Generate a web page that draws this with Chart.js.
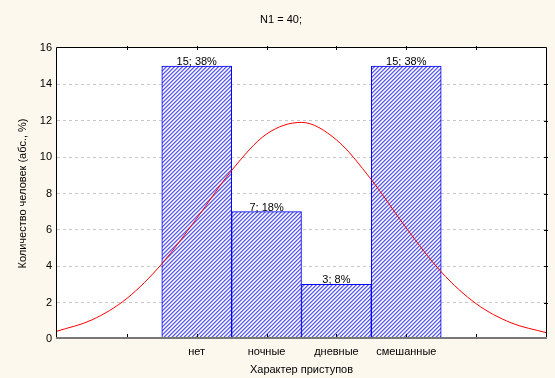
<!DOCTYPE html>
<html>
<head>
<meta charset="utf-8">
<script src="https://cdn.jsdelivr.net/npm/chart.js@4.4.1/dist/chart.umd.min.js"></script>
<style>
  html, body { margin: 0; padding: 0; background: #fcf8ee; }
  #wrap { width: 555px; height: 378px; }
</style>
</head>
<body>
<div id="wrap"><canvas id="c" width="555" height="378"></canvas></div>
<script>
// Attack type categories and patient counts
const categories = ['нет', 'ночные', 'дневные', 'смешанные'];
const counts = [15, 7, 3, 15];
const percents = [38, 18, 8, 38];

// Fitted normal curve (x in slot units across the plot, y in persons)
const curveX = [0, 0.5, 1, 1.5, 2, 2.5, 3, 3.5, 4, 4.5, 5, 5.5, 6, 6.5, 7];
const curveY = [0.43, 1.05, 2.23, 4.13, 6.63, 9.27, 11.27, 11.91, 10.95, 8.76, 6.10, 3.69, 1.94, 0.89, 0.35];

const total = counts.reduce((a, b) => a + b, 0);
const FIRST_SLOT = 2;           // first category sits two slots in from the left edge
const X_MAX = categories.length + 3;

const FONT = "'Liberation Sans', Arial, sans-serif";
Chart.defaults.font.family = FONT;
Chart.defaults.font.size = 11;
Chart.defaults.color = '#000';

const canvas = document.getElementById('c');
const ctx = canvas.getContext('2d');

// Fine diagonal hatch used for the bars
function makeHatch() {
  const t = document.createElement('canvas');
  t.width = 4; t.height = 4;
  const tc = t.getContext('2d');
  const shades = ['#5c5cf0', '#9c9cf5', '#ffffff', '#d6d6fb'];
  for (let y = 0; y < 4; y++) {
    for (let x = 0; x < 4; x++) {
      tc.fillStyle = shades[(x + y) % 4];
      tc.fillRect(x, y, 1, 1);
    }
  }
  return ctx.createPattern(t, 'repeat');
}
const hatch = makeHatch();

const barData = counts.map((v, i) => ({ x: i + FIRST_SLOT, y: v }));
const curveData = curveX.map((x, i) => ({ x: x, y: curveY[i] }));

const frame = {
  id: 'frame',
  beforeDraw(chart) {
    const c = chart.ctx;
    const a = chart.chartArea;
    c.save();
    c.fillStyle = '#fcf8ee';
    c.fillRect(0, 0, chart.width, chart.height);
    c.fillStyle = '#ffffff';
    c.fillRect(a.left, a.top, a.right - a.left, a.bottom - a.top);
    c.restore();
  },
  afterDraw(chart) {
    const c = chart.ctx;
    const { left, right, top, bottom } = chart.chartArea;
    const xs = chart.scales.x, ys = chart.scales.y;
    c.save();
    // plot frame
    c.strokeStyle = '#000';
    c.lineWidth = 1;
    c.beginPath();
    c.moveTo(left - 0.5, bottom);
    c.lineTo(left - 0.5, top - 0.5);
    c.lineTo(right + 0.5, top - 0.5);
    c.lineTo(right + 0.5, bottom);
    c.stroke();
    c.strokeStyle = '#787878';
    c.lineWidth = 2;
    c.beginPath();
    c.moveTo(left - 1, bottom - 1);
    c.lineTo(right + 1, bottom - 1);
    c.stroke();
    // small tick marks on bottom, top and right edges
    c.strokeStyle = '#000';
    c.lineWidth = 1;
    c.beginPath();
    for (let v = 1; v < X_MAX; v++) {
      const px = Math.round(xs.getPixelForValue(v)) + 0.5;
      c.moveTo(px, bottom - 2); c.lineTo(px, bottom - 5);
      c.moveTo(px, top - 2); c.lineTo(px, top + 2);
    }
    ys.ticks.forEach(t => {
      if (t.value <= ys.min || t.value >= ys.max) return;
      const py = Math.round(ys.getPixelForValue(t.value)) + 0.5;
      c.moveTo(right - 2, py); c.lineTo(right + 2, py);
    });
    c.stroke();
    // value labels above bars
    c.fillStyle = '#000';
    c.font = '11px ' + FONT;
    c.textAlign = 'center';
    c.textBaseline = 'alphabetic';
    chart.getDatasetMeta(1).data.forEach((el, i) => {
      c.fillText(counts[i] + '; ' + percents[i] + '%', el.x, el.y - 1);
    });
    c.restore();
  }
};

new Chart(ctx, {
  data: {
    datasets: [
      {
        type: 'line',
        data: curveData,
        borderColor: '#ff0000',
        borderWidth: 1,
        pointRadius: 0,
        cubicInterpolationMode: 'monotone',
        fill: false,
        order: 0
      },
      {
        type: 'bar',
        data: barData,
        backgroundColor: hatch,
        borderColor: '#0000ff',
        borderWidth: 1,
        borderSkipped: false,
        barPercentage: 1,
        categoryPercentage: 1,
        order: 1
      }
    ]
  },
  options: {
    responsive: false,
    animation: false,
    events: [],
    layout: { padding: { left: 16, right: 9, top: 0, bottom: 0 } },
    plugins: {
      legend: { display: false },
      tooltip: { enabled: false },
      title: {
        display: true,
        text: 'N1 = ' + total + ';',
        color: '#000',
        font: { size: 11, weight: 'normal' },
        padding: { top: 13, bottom: 21.8 }
      }
    },
    scales: {
      x: {
        type: 'linear',
        min: 0,
        max: X_MAX,
        offset: false,
        grid: { display: false, drawTicks: false },
        border: { display: false },
        ticks: {
          stepSize: 1,
          autoSkip: false,
          maxRotation: 0,
          padding: 6,
          color: '#000',
          callback: (v) => {
            const i = v - FIRST_SLOT;
            return (i >= 0 && i < categories.length) ? categories[i] : '';
          }
        },
        title: {
          display: true,
          text: 'Характер приступов',
          color: '#000',
          padding: { top: 0, bottom: 1 }
        },
        afterFit: (s) => { s.height = 39; }
      },
      y: {
        min: 0,
        max: 16,
        grid: {
          drawTicks: false,
          color: (c) => (c.tick && (c.tick.value === 0 || c.tick.value === 16)) ? 'rgba(0,0,0,0)' : '#c8c8c8',
          lineWidth: 1
        },
        border: { display: false, dash: [3, 3] },
        ticks: { stepSize: 2, padding: 5, color: '#000' },
        title: {
          display: true,
          text: 'Количество человек (абс., %)',
          color: '#000',
          padding: { top: 0.5, bottom: 0 }
        },
        afterFit: (s) => { s.width = 41; }
      }
    }
  },
  plugins: [frame]
});
</script>
</body>
</html>
